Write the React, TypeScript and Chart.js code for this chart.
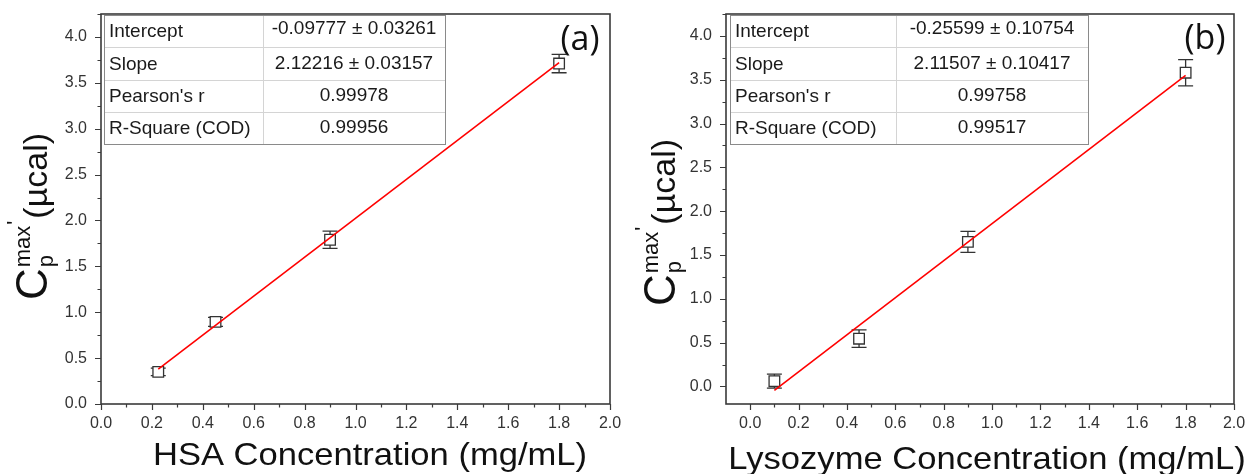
import React, { useEffect, useRef } from "react";
import { Chart, registerables } from "chart.js";

Chart.register(...registerables);

// ---------- Data ----------
const hsaConc = [0.225, 0.45, 0.9, 1.8];
const hsaCp = [0.35, 0.895, 1.79, 3.71];
const hsaErr = [0.04, 0.05, 0.093, 0.1];
const hsaFitX = [0.225, 1.8];
const hsaFitY = [0.38, 3.72];
const hsaTableLabels = ["Intercept", "Slope", "Pearson's r", "R-Square (COD)"];
const hsaTableValues = ["-0.09777 ± 0.03261", "2.12216 ± 0.03157", "0.99978", "0.99956"];

const lysConc = [0.1, 0.45, 0.9, 1.8];
const lysCp = [0.06, 0.545, 1.65, 3.58];
const lysErr = [0.08, 0.1, 0.12, 0.15];
const lysFitX = [0.1, 1.8];
const lysFitY = [-0.045, 3.55];
const lysTableLabels = ["Intercept", "Slope", "Pearson's r", "R-Square (COD)"];
const lysTableValues = ["-0.25599 ± 0.10754", "2.11507 ± 0.10417", "0.99758", "0.99517"];

const xMajorTicks = [0, 0.2, 0.4, 0.6, 0.8, 1.0, 1.2, 1.4, 1.6, 1.8, 2.0];
const xMinorTicks = [0.1, 0.3, 0.5, 0.7, 0.9, 1.1, 1.3, 1.5, 1.7, 1.9];
const yMajorTicks = [0, 0.5, 1.0, 1.5, 2.0, 2.5, 3.0, 3.5, 4.0];
const yMinorTicks = [0.25, 0.75, 1.25, 1.75, 2.25, 2.75, 3.25, 3.75, 4.25];

const FONT = "Arial, 'Liberation Sans', sans-serif";
const LABEL_FONT = "'Open Sans', sans-serif";
const AXIS_COLOR = "#3a3a3a";

type Panel = {
  conc: number[];
  cp: number[];
  err: number[];
  fitX: number[];
  fitY: number[];
  tLabels: string[];
  tValues: string[];
  xMin: number;
  yMin: number;
  xTitle: string;
  letter: string;
  padLeft: number;
  padRight: number;
  table: { x0: number; x1: number; xs: number; y0: number; y1: number };
  yTitlePos: { x: number; y: number };
  xTitlePos: { x: number; y: number };
  letterPos: { x: number; y: number };
};

function decoPlugin(p: Panel) {
  return {
    id: "deco",
    beforeDatasetsDraw(chart: any) {
      const ctx = chart.ctx as CanvasRenderingContext2D;
      const xs = chart.scales.x;
      const ys = chart.scales.y;
      ctx.save();
      ctx.strokeStyle = "#333";
      ctx.lineWidth = 1.3;
      for (let i = 0; i < p.conc.length; i++) {
        const px = xs.getPixelForValue(p.conc[i]);
        const top = ys.getPixelForValue(p.cp[i] + p.err[i]);
        const bot = ys.getPixelForValue(p.cp[i] - p.err[i]);
        ctx.beginPath();
        ctx.moveTo(px, top);
        ctx.lineTo(px, bot);
        ctx.moveTo(px - 7.5, top);
        ctx.lineTo(px + 7.5, top);
        ctx.moveTo(px - 7.5, bot);
        ctx.lineTo(px + 7.5, bot);
        ctx.stroke();
      }
      ctx.restore();
    },
    afterDraw(chart: any) {
      const ctx = chart.ctx as CanvasRenderingContext2D;
      const a = chart.chartArea;
      const xs = chart.scales.x;
      const ys = chart.scales.y;
      ctx.save();
      // frame
      ctx.strokeStyle = AXIS_COLOR;
      ctx.lineWidth = 1.6;
      ctx.strokeRect(a.left, a.top, a.right - a.left, a.bottom - a.top);
      // ticks
      ctx.lineWidth = 1.2;
      ctx.beginPath();
      xMajorTicks.forEach((v) => {
        const px = Math.round(xs.getPixelForValue(v)) + 0.5;
        ctx.moveTo(px, a.bottom);
        ctx.lineTo(px, a.bottom + 6);
      });
      xMinorTicks.forEach((v) => {
        const px = Math.round(xs.getPixelForValue(v)) + 0.5;
        ctx.moveTo(px, a.bottom);
        ctx.lineTo(px, a.bottom + 3.5);
      });
      yMajorTicks.forEach((v) => {
        const py = Math.round(ys.getPixelForValue(v)) + 0.5;
        ctx.moveTo(a.left, py);
        ctx.lineTo(a.left - 6, py);
      });
      yMinorTicks.forEach((v) => {
        if (v > ys.max) return;
        const py = Math.round(ys.getPixelForValue(v)) + 0.5;
        ctx.moveTo(a.left, py);
        ctx.lineTo(a.left - 3.5, py);
      });
      ctx.stroke();

      // table
      const t = p.table;
      const rows = p.tLabels.length;
      const rh = (t.y1 - t.y0) / rows;
      ctx.fillStyle = "#fff";
      ctx.fillRect(t.x0, t.y0, t.x1 - t.x0, t.y1 - t.y0);
      ctx.strokeStyle = "#d4d4d4";
      ctx.lineWidth = 1;
      ctx.beginPath();
      for (let r = 1; r < rows; r++) {
        const yy = Math.round(t.y0 + r * rh) + 0.5;
        ctx.moveTo(t.x0, yy);
        ctx.lineTo(t.x1, yy);
      }
      ctx.moveTo(t.xs + 0.5, t.y0);
      ctx.lineTo(t.xs + 0.5, t.y1);
      ctx.stroke();
      ctx.strokeStyle = "#8a8a8a";
      ctx.strokeRect(t.x0 + 0.5, t.y0 + 0.5, t.x1 - t.x0, t.y1 - t.y0);
      ctx.fillStyle = "#1a1a1a";
      ctx.font = `19px ${FONT}`;
      ctx.textBaseline = "middle";
      for (let r = 0; r < rows; r++) {
        const cy = t.y0 + (r + 0.5) * rh + 1;
        ctx.textAlign = "left";
        ctx.fillText(p.tLabels[r], t.x0 + 5, cy);
        ctx.textAlign = "center";
        ctx.fillText(p.tValues[r], (t.xs + t.x1) / 2, r === 0 ? cy - 3 : cy - 1);
      }

      // panel letter
      ctx.fillStyle = "#111";
      ctx.font = `34px ${LABEL_FONT}`;
      ctx.textAlign = "center";
      ctx.textBaseline = "middle";
      ctx.fillText(p.letter, p.letterPos.x, p.letterPos.y);

      // x title (slightly wide, as in the original)
      ctx.save();
      ctx.translate(p.xTitlePos.x, p.xTitlePos.y);
      ctx.scale(1.08, 1);
      ctx.font = `32px ${FONT}`;
      ctx.textBaseline = "alphabetic";
      ctx.fillText(p.xTitle, 0, 0);
      ctx.restore();

      // y title (rotated)
      ctx.translate(p.yTitlePos.x, p.yTitlePos.y);
      ctx.rotate(-Math.PI / 2);
      ctx.textAlign = "left";
      ctx.textBaseline = "alphabetic";
      ctx.fillStyle = "#111";
      let cx = 0;
      ctx.font = `44px ${FONT}`;
      ctx.fillText("C", cx, 0);
      cx += ctx.measureText("C").width + 1;
      ctx.font = `22px ${FONT}`;
      ctx.fillText("p", cx, 6);
      ctx.fillText("max", cx, -17);
      const wMax = ctx.measureText("max").width;
      ctx.fillText("'", cx + wMax + 1, -25);
      cx += wMax + 7;
      ctx.font = `34px ${FONT}`;
      ctx.fillText("(µcal)", cx, 0);
      ctx.restore();
    },
  };
}

function PanelChart({ p, left }: { p: Panel; left: number }) {
  const ref = useRef<HTMLCanvasElement | null>(null);
  useEffect(() => {
    if (!ref.current) return;
    const chart = new Chart(ref.current, {
      type: "scatter",
      data: {
        datasets: [
          {
            type: "line",
            data: p.fitX.map((x, i) => ({ x, y: p.fitY[i] })),
            borderColor: "#ff0000",
            borderWidth: 1.6,
            pointRadius: 0,
            fill: false,
            order: 0,
          } as any,
          {
            data: p.conc.map((x, i) => ({ x, y: p.cp[i] })),
            pointStyle: "rect",
            pointRadius: 7.5,
            borderColor: "#333",
            borderWidth: 1.3,
            backgroundColor: "#fff",
            showLine: false,
            order: 1,
          } as any,
        ],
      },
      options: {
        responsive: false,
        animation: false,
        devicePixelRatio: 1,
        layout: { padding: { left: 0, right: p.padRight, top: 14, bottom: 0 } },
        plugins: { legend: { display: false }, tooltip: { enabled: false } },
        scales: {
          x: {
            type: "linear",
            min: p.xMin,
            max: 2.0,
            afterBuildTicks: (s: any) => {
              s.ticks = xMajorTicks.map((v) => ({ value: v }));
            },
            afterFit: (s: any) => {
              s.height = 70;
              s.paddingLeft = 0;
              s.paddingRight = 0;
            },
            ticks: {
              autoSkip: false,
              maxRotation: 0,
              padding: 10,
              color: "#333",
              font: { size: 16, family: FONT },
              callback: (v: any) => Number(v).toFixed(1),
            },
            grid: { display: false, drawTicks: false },
            border: { display: false },
          },
          y: {
            type: "linear",
            min: p.yMin,
            max: 4.25,
            afterBuildTicks: (s: any) => {
              s.ticks = yMajorTicks.map((v) => ({ value: v }));
            },
            afterFit: (s: any) => {
              s.width = p.padLeft;
              s.paddingTop = 0;
              s.paddingBottom = 0;
            },
            ticks: {
              autoSkip: false,
              padding: 14,
              color: "#333",
              font: { size: 16, family: FONT },
              callback: (v: any) => Number(v).toFixed(1),
            },
            grid: { display: false, drawTicks: false },
            border: { display: false },
          },
        },
      },
      plugins: [decoPlugin(p)],
    } as any);
    return () => chart.destroy();
  }, [p]);
  return (
    <canvas
      ref={ref}
      width={626}
      height={474}
      style={{ position: "absolute", left, top: 0, width: 626, height: 474 }}
    />
  );
}

const panelA: Panel = {
  conc: hsaConc,
  cp: hsaCp,
  err: hsaErr,
  fitX: hsaFitX,
  fitY: hsaFitY,
  tLabels: hsaTableLabels,
  tValues: hsaTableValues,
  xMin: 0,
  yMin: 0,
  xTitle: "HSA Concentration (mg/mL)",
  letter: "(a)",
  padLeft: 101,
  padRight: 16,
  table: { x0: 104, x1: 445, xs: 263, y0: 15, y1: 144 },
  yTitlePos: { x: 47, y: 300 },
  xTitlePos: { x: 370, y: 465 },
  letterPos: { x: 580, y: 40 },
};

const panelB: Panel = {
  conc: lysConc,
  cp: lysCp,
  err: lysErr,
  fitX: lysFitX,
  fitY: lysFitY,
  tLabels: lysTableLabels,
  tValues: lysTableValues,
  xMin: -0.1,
  yMin: -0.2,
  xTitle: "Lysozyme Concentration (mg/mL)",
  letter: "(b)",
  padLeft: 100,
  padRight: 18,
  table: { x0: 104, x1: 462, xs: 270, y0: 15, y1: 144 },
  yTitlePos: { x: 49, y: 306 },
  xTitlePos: { x: 361, y: 469 },
  letterPos: { x: 579, y: 39 },
};

export default function App() {
  return (
    <div style={{ position: "fixed", left: 0, top: 0, width: 1252, height: 474, background: "#fff", overflow: "hidden" }}>
      <PanelChart p={panelA} left={0} />
      <PanelChart p={panelB} left={626} />
    </div>
  );
}
